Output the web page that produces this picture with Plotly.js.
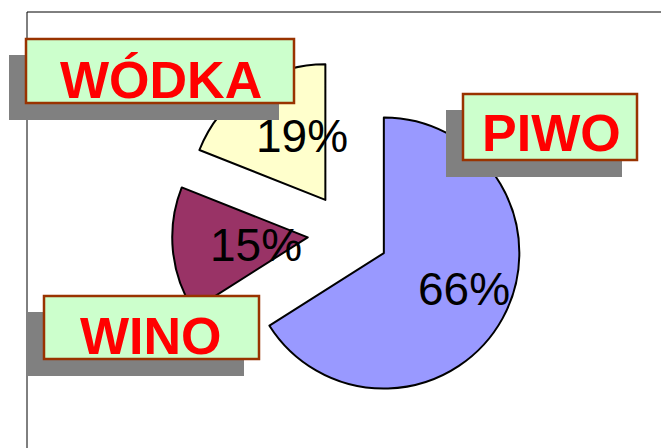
<!DOCTYPE html>
<html>
<head>
<meta charset="utf-8">
<script src="https://cdn.plot.ly/plotly-3.0.1.min.js"></script>
<style>html,body{margin:0;padding:0;background:#fff;}#chart{width:661px;height:448px;}</style>
</head>
<body>
<div id="chart"></div>
<script>
// Data
var categories = ["PIWO", "WINO", "WÓDKA"];
var values = [66, 15, 19];
var sliceColors = ["#9999FF", "#993366", "#FFFFCC"];
var pulls = [0.3, 0.3, 0.3];

var W = 661, H = 448;
function px(x) { return x / W; }
function py(y) { return 1 - y / H; }

var total = values.reduce(function (a, b) { return a + b; }, 0);
var pctLabels = values.map(function (v) { return Math.round(v / total * 100) + "%"; });

var trace = {
  type: "pie",
  labels: categories,
  values: values,
  sort: false,
  direction: "clockwise",
  rotation: 0,
  pull: pulls,
  textinfo: "none",
  hoverinfo: "none",
  marker: { colors: sliceColors, line: { color: "#000000", width: 2 } },
  domain: { x: [0.2603, 0.7933], y: [0.0856, 0.872] },
  showlegend: false
};

// label boxes (layout decoration): [x0,y0,x1,y1] in px
var boxes = [
  { box: [463, 94, 637, 160], text: [551, 133] },
  { box: [44, 296, 259, 359], text: [151, 336] },
  { box: [26, 39, 294, 103], text: [161, 80] }
];
var pctPos = [[464, 289], [256, 245], [302, 136]];

var shapes = [];
// frame
shapes.push({ type: "line", xref: "paper", yref: "paper", x0: px(27), y0: py(12), x1: px(661), y1: py(12), line: { color: "#000", width: 1 } });
shapes.push({ type: "line", xref: "paper", yref: "paper", x0: px(27), y0: py(12), x1: px(27), y1: py(448), line: { color: "#000", width: 1 } });

boxes.forEach(function (b) {
  var x0 = b.box[0], y0 = b.box[1], x1 = b.box[2], y1 = b.box[3];
  shapes.push({ type: "rect", xref: "paper", yref: "paper", x0: px(x0 - 17), y0: py(y0 + 16), x1: px(x1 - 15), y1: py(y1 + 17),
    fillcolor: "#808080", line: { width: 0 } });
});
boxes.forEach(function (b) {
  var x0 = b.box[0], y0 = b.box[1], x1 = b.box[2], y1 = b.box[3];
  shapes.push({ type: "rect", xref: "paper", yref: "paper", x0: px(x0), y0: py(y0), x1: px(x1), y1: py(y1),
    fillcolor: "#CCFFCC", line: { color: "#993300", width: 2.5 } });
});

var annotations = [];
boxes.forEach(function (b, i) {
  annotations.push({ xref: "paper", yref: "paper", x: px(b.text[0]), y: py(b.text[1]), xanchor: "center", yanchor: "middle",
    text: categories[i], showarrow: false,
    font: { family: "Liberation Sans, Arial, sans-serif", size: 52, color: "#FF0000", weight: "bold" } });
});
pctLabels.forEach(function (t, i) {
  annotations.push({ xref: "paper", yref: "paper", x: px(pctPos[i][0]), y: py(pctPos[i][1]), xanchor: "center", yanchor: "middle",
    text: t, showarrow: false,
    font: { family: "Liberation Sans, Arial, sans-serif", size: 46, color: "#000000" } });
});

var layout = {
  width: W, height: H,
  margin: { l: 0, r: 0, t: 0, b: 0 },
  paper_bgcolor: "#ffffff",
  plot_bgcolor: "#ffffff",
  showlegend: false,
  shapes: shapes,
  annotations: annotations
};

Plotly.newPlot("chart", [trace], layout, { displayModeBar: false, staticPlot: true });
</script>
</body>
</html>
